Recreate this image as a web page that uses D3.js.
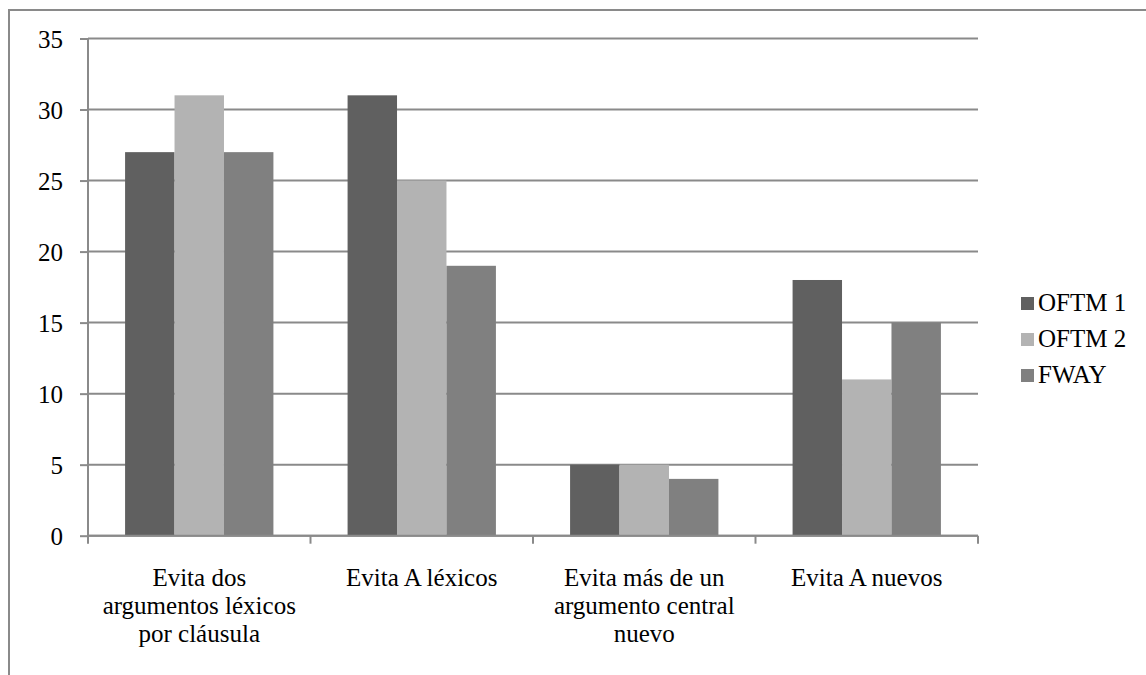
<!DOCTYPE html>
<html>
<head>
<meta charset="utf-8">
<script src="https://cdn.jsdelivr.net/npm/d3@7"></script>
</head>
<body style="margin:0; background:#ffffff">
<svg id="fig" width="1146" height="675" font-family="Times New Roman"></svg>
<script>
// Categories (each label split into its display lines)
const categories = [
  ["Evita dos", "argumentos léxicos", "por cláusula"],
  ["Evita A léxicos"],
  ["Evita más de un", "argumento central", "nuevo"],
  ["Evita A nuevos"]
];
const seriesNames = ["OFTM 1", "OFTM 2", "FWAY"];
const oftm1 = [27, 31, 5, 18];
const oftm2 = [31, 25, 5, 11];
const fway  = [27, 19, 4, 15];
const yTicks = [0, 5, 10, 15, 20, 25, 30, 35];
const colors = ["#606060", "#b3b3b3", "#808080"];

const seriesValues = [oftm1, oftm2, fway];
const catKeys = categories.map((c, i) => i);
const FONT = 25;
const FAMILY = "Times New Roman";
const GRID = "#8a8a8a";

const svg = d3.select("#fig");

// text helper: serif face set both as attribute and inline style
function serif(sel) {
  return sel
    .attr("font-family", FAMILY)
    .style("font-family", `"${FAMILY}"`)
    .attr("font-size", FONT)
    .attr("fill", "#000");
}

// outer frame
svg.append("rect")
  .attr("x", 9).attr("y", 10)
  .attr("width", 1160).attr("height", 700)
  .attr("fill", "none")
  .attr("stroke", GRID)
  .attr("stroke-width", 2);

const plot = { left: 88, right: 978, top: 38.5, bottom: 535.7 };

const x = d3.scaleBand()
  .domain(catKeys)
  .range([plot.left, plot.right])
  .paddingInner(0)
  .paddingOuter(0);

// bars occupy 3 of 4.5 widths (gap 150%)
const groupWidth = x.bandwidth() * (3 / 4.5);
const xs = d3.scaleBand()
  .domain(d3.range(seriesNames.length))
  .range([0, groupWidth]);

const y = d3.scaleLinear()
  .domain([0, 35])
  .range([plot.bottom, plot.top]);

// horizontal gridlines
svg.append("g")
  .selectAll("line")
  .data(yTicks)
  .join("line")
  .attr("x1", plot.left).attr("x2", plot.right)
  .attr("y1", d => y(d)).attr("y2", d => y(d))
  .attr("stroke", GRID)
  .attr("stroke-width", 2);

// bars
const groups = svg.append("g")
  .selectAll("g")
  .data(catKeys)
  .join("g")
  .attr("transform", d => `translate(${x(d) + (x.bandwidth() - groupWidth) / 2},0)`);

groups.selectAll("rect")
  .data(ci => seriesValues.map((vals, si) => ({ si, v: vals[ci] })))
  .join("rect")
  .attr("x", d => xs(d.si))
  .attr("width", xs.bandwidth())
  .attr("y", d => y(d.v))
  .attr("height", d => y(0) - y(d.v))
  .attr("fill", d => colors[d.si]);

// y axis
const yAxis = d3.axisLeft(y)
  .tickValues(yTicks)
  .tickSize(8)
  .tickPadding(17);
const gy = svg.append("g")
  .attr("transform", `translate(${plot.left},0)`)
  .call(yAxis)
  .attr("font-family", FAMILY)
  .attr("font-size", FONT);
gy.select(".domain").remove();
gy.selectAll(".tick line").attr("stroke", GRID).attr("stroke-width", 2);
gy.selectAll(".tick text")
  .call(serif)
  .attr("dy", "0.34em");
svg.append("line")
  .attr("x1", plot.left).attr("x2", plot.left)
  .attr("y1", plot.top).attr("y2", plot.bottom + 7)
  .attr("stroke", GRID).attr("stroke-width", 2);

// x axis: baseline plus category separators
svg.append("line")
  .attr("x1", plot.left).attr("x2", plot.right)
  .attr("y1", plot.bottom).attr("y2", plot.bottom)
  .attr("stroke", GRID).attr("stroke-width", 2);
const sepPositions = catKeys.map(k => x(k)).concat([plot.right]);
svg.append("g")
  .selectAll("line")
  .data(sepPositions)
  .join("line")
  .attr("x1", d => d).attr("x2", d => d)
  .attr("y1", plot.bottom).attr("y2", plot.bottom + 8)
  .attr("stroke", GRID).attr("stroke-width", 2);

// category labels, one text element per line
const labelLines = catKeys.flatMap(k =>
  categories[k].map((line, i) => ({ line, i, cx: x(k) + x.bandwidth() / 2 })));
svg.append("g")
  .selectAll("text")
  .data(labelLines)
  .join("text")
  .call(serif)
  .attr("text-anchor", "middle")
  .attr("x", d => d.cx)
  .attr("y", d => 586 + d.i * 28)
  .text(d => d.line);

// legend
const legend = svg.append("g")
  .selectAll("g")
  .data(seriesNames)
  .join("g")
  .attr("transform", (d, i) => `translate(1021, ${297 + i * 36})`);
legend.append("rect")
  .attr("width", 13).attr("height", 13)
  .attr("fill", (d, i) => colors[i]);
legend.append("text")
  .call(serif)
  .attr("x", 17)
  .attr("y", 14)
  .text(d => d);
</script>
</body>
</html>
